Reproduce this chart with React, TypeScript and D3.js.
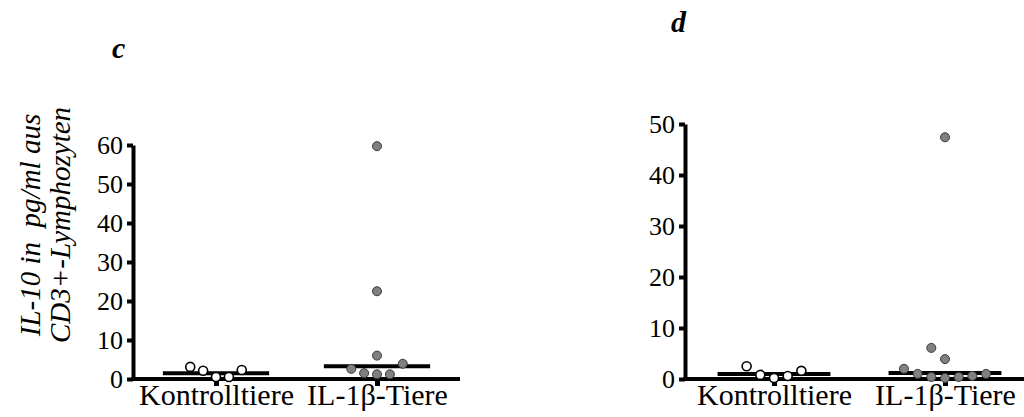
import React, { useEffect, useRef } from "react";
import * as d3 from "d3";

const categories = ["Kontrolltiere", "IL-1β-Tiere"];

// panel c (IL-10, left)
const cKontrolle = [3.1, 2.1, 0.5, 0.5, 2.3];
const cKontrolleCol = [-2, -1, 0, 1, 2];
const cIL1b = [59.7, 22.5, 6.0, 2.6, 1.5, 1.2, 1.2, 3.9];
const cIL1bCol = [0, 0, 0, -2, -1, 0, 1, 2];
const cMedians = [1.5, 3.3];
const cTicks = [0, 10, 20, 30, 40, 50, 60];

// panel d (right)
const dKontrolle = [2.5, 0.8, 0.2, 0.6, 1.6];
const dKontrolleCol = [-2, -1, 0, 1, 2];
const dIL1b = [47.4, 6.1, 3.9, 2.0, 1.0, 0.4, 0.2, 0.4, 0.6, 1.0];
const dIL1bCol = [0, -1, 0, -3, -2, -1, 0, 1, 2, 3];
const dMedians = [1.0, 1.2];
const dTicks = [0, 10, 20, 30, 40, 50];

const FONT = "'Liberation Serif', 'Times New Roman', serif";

function drawPanel(svg, opts) {
  const { x0, x1, centers, yTop, yMax, ticks, groups, medians, letter, letterPos } = opts;
  const baseY = 379;

  const x = d3.scalePoint().domain(categories).range(centers);
  const step = x.step();
  const y = d3.scaleLinear().domain([0, yMax]).range([baseY, yTop]);

  const g = svg.append("g");

  // y axis
  const ya = g
    .append("g")
    .attr("transform", `translate(${x0},0)`)
    .call(d3.axisLeft(y).tickValues(ticks).tickSize(6).tickSizeOuter(0).tickPadding(4));
  ya.select(".domain").attr("stroke", "#000").attr("stroke-width", 4);
  ya.selectAll(".tick line").attr("stroke", "#000").attr("stroke-width", 4);
  ya.selectAll(".tick text")
    .attr("font-family", FONT)
    .attr("font-size", 26)
    .attr("fill", "#000");

  // x axis line + category ticks
  g.append("line")
    .attr("x1", x0 - 2)
    .attr("x2", x1)
    .attr("y1", baseY)
    .attr("y2", baseY)
    .attr("stroke", "#000")
    .attr("stroke-width", 4);
  const xa = g
    .append("g")
    .attr("transform", `translate(0,${baseY})`)
    .call(d3.axisBottom(x).tickSize(7).tickSizeOuter(0));
  xa.select(".domain").remove();
  xa.selectAll(".tick line").attr("stroke", "#000").attr("stroke-width", 5);
  xa.selectAll(".tick text")
    .attr("font-family", FONT)
    .attr("font-size", 30)
    .attr("fill", "#000")
    .attr("dy", null)
    .attr("y", 26);

  // median lines
  g.selectAll(".median")
    .data(categories)
    .enter()
    .append("line")
    .attr("x1", (d) => x(d) - step * 0.33)
    .attr("x2", (d) => x(d) + step * 0.33)
    .attr("y1", (d, i) => y(medians[i]))
    .attr("y2", (d, i) => y(medians[i]))
    .attr("stroke", "#000")
    .attr("stroke-width", 4);

  // points
  const spacing = step * 0.08;
  groups.forEach((grp, gi) => {
    const cx = x(categories[gi]);
    g.selectAll(`.pt${gi}`)
      .data(grp.values)
      .enter()
      .append("circle")
      .attr("cx", (d, i) => cx + grp.cols[i] * spacing)
      .attr("cy", (d) => y(d))
      .attr("r", 4.5)
      .attr("fill", gi === 0 ? "#fff" : "#808080")
      .attr("stroke", gi === 0 ? "#000" : "#3a3a3a")
      .attr("stroke-width", gi === 0 ? 1.6 : 1);
  });

  svg
    .append("text")
    .attr("x", letterPos[0])
    .attr("y", letterPos[1])
    .attr("font-family", FONT)
    .attr("font-style", "italic")
    .attr("font-weight", "bold")
    .attr("font-size", 30)
    .text(letter);
}

export default function App() {
  const svgRef = useRef(null);

  useEffect(() => {
    const svg = d3.select(svgRef.current);
    svg.selectAll("*").remove();

    drawPanel(svg, {
      x0: 133,
      x1: 460,
      centers: [216, 377],
      yTop: 145,
      yMax: 60,
      ticks: cTicks,
      groups: [
        { values: cKontrolle, cols: cKontrolleCol },
        { values: cIL1b, cols: cIL1bCol },
      ],
      medians: cMedians,
      letter: "c",
      letterPos: [112, 58],
    });

    drawPanel(svg, {
      x0: 685,
      x1: 1030,
      centers: [774, 945],
      yTop: 124,
      yMax: 50,
      ticks: dTicks,
      groups: [
        { values: dKontrolle, cols: dKontrolleCol },
        { values: dIL1b, cols: dIL1bCol },
      ],
      medians: dMedians,
      letter: "d",
      letterPos: [671, 32],
    });

    // y axis title of panel c
    const title = svg
      .append("text")
      .attr("transform", "translate(0,225) rotate(-90)")
      .attr("font-family", FONT)
      .attr("font-style", "italic")
      .attr("font-size", 29)
      .attr("text-anchor", "middle");
    title.append("tspan").attr("x", 0).attr("y", 40).attr("xml:space", "preserve").text("IL-10 in  pg/ml aus");
    title.append("tspan").attr("x", 0).attr("y", 70).text("CD3+-Lymphozyten");
  }, []);

  return (
    <svg
      ref={svgRef}
      width={1024}
      height={417}
      style={{ position: "absolute", left: 0, top: 0, background: "#fff" }}
    />
  );
}
